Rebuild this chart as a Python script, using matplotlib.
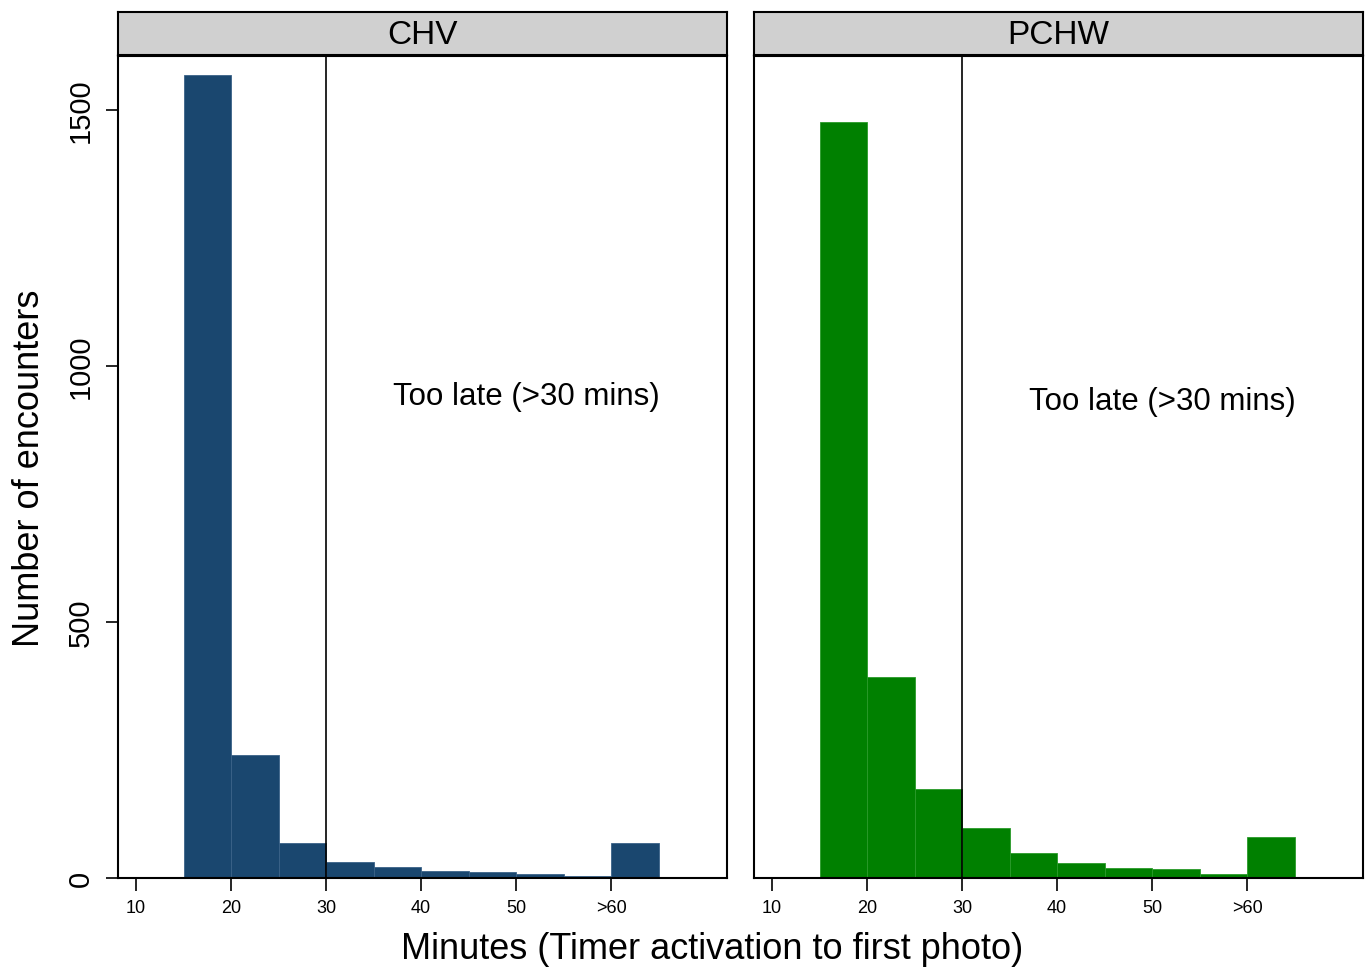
import numpy as np
import matplotlib
matplotlib.use("Agg")
import matplotlib.pyplot as plt

plt.rcParams["font.family"] = ["Liberation Sans", "DejaVu Sans"]

# bin left edges (minutes), last bin is ">60"
bin_edges = [15, 20, 25, 30, 35, 40, 45, 50, 55, 60]
chv_counts = [1568, 240, 68, 31, 22, 14, 11, 8, 4, 68]
pchw_counts = [1477, 393, 174, 98, 49, 29, 19, 17, 8, 81]

panels = ["CHV", "PCHW"]
colors = {"CHV": "#1a476f", "PCHW": "#008000"}
edge_colors = {"CHV": "#3a6288", "PCHW": "#2a9a2a"}
counts = {"CHV": chv_counts, "PCHW": pchw_counts}
note_y = {"CHV": 941, "PCHW": 931}

tick_pos = [10, 20, 30, 40, 50, 60]
tick_labels = ["10", "20", "30", "40", "50", ">60"]

W, H = 1366, 970
fig = plt.figure(figsize=(W / 100, H / 100), dpi=100)

lefts = [118, 754]
ax_w = 609
ax_top, ax_bot = 57, 879
strip_top = 13

for i, name in enumerate(panels):
    x0 = lefts[i]
    ax = fig.add_axes([x0 / W, (H - ax_bot) / H, ax_w / W, (ax_bot - ax_top) / H])
    ax.bar(bin_edges, counts[name], width=5, align="edge",
           color=colors[name], edgecolor=edge_colors[name], linewidth=0.6)
    ax.axvline(30, color="black", linewidth=1.2)
    ax.set_xlim(8.1, 72.2)
    ax.set_ylim(0, 1605)
    ax.set_xticks(tick_pos)
    ax.set_xticklabels(tick_labels, fontsize=13)
    ax.tick_params(axis="x", direction="out", length=9, width=1.2, pad=6)
    if i == 0:
        ax.set_yticks([0, 500, 1000, 1500])
        ax.set_yticklabels(["0", "500", "1000", "1500"], rotation=90,
                           va="center", fontsize=21)
        ax.tick_params(axis="y", direction="out", length=9, width=1.2, pad=8)
        ax.set_ylabel("Number of encounters", fontsize=26, labelpad=14)
    else:
        ax.set_yticks([])
    for sp in ax.spines.values():
        sp.set_linewidth(1.5)
    ax.text(51.1, note_y[name], "Too late (>30 mins)", ha="center", va="center",
            fontsize=22.5)

    # strip header
    sax = fig.add_axes([x0 / W, (H - ax_top + 1) / H, ax_w / W, (ax_top - 1 - strip_top) / H])
    sax.set_facecolor("#d0d0d0")
    sax.set_xticks([])
    sax.set_yticks([])
    for sp in sax.spines.values():
        sp.set_linewidth(1.5)
    sax.text(0.5, 0.47, name, ha="center", va="center", fontsize=24,
             transform=sax.transAxes)

fig.text(712 / W, 1 - 950 / H,
         "Minutes (Timer activation to first photo)",
         ha="center", va="center", fontsize=26)

fig.savefig("out.png", dpi=100)
